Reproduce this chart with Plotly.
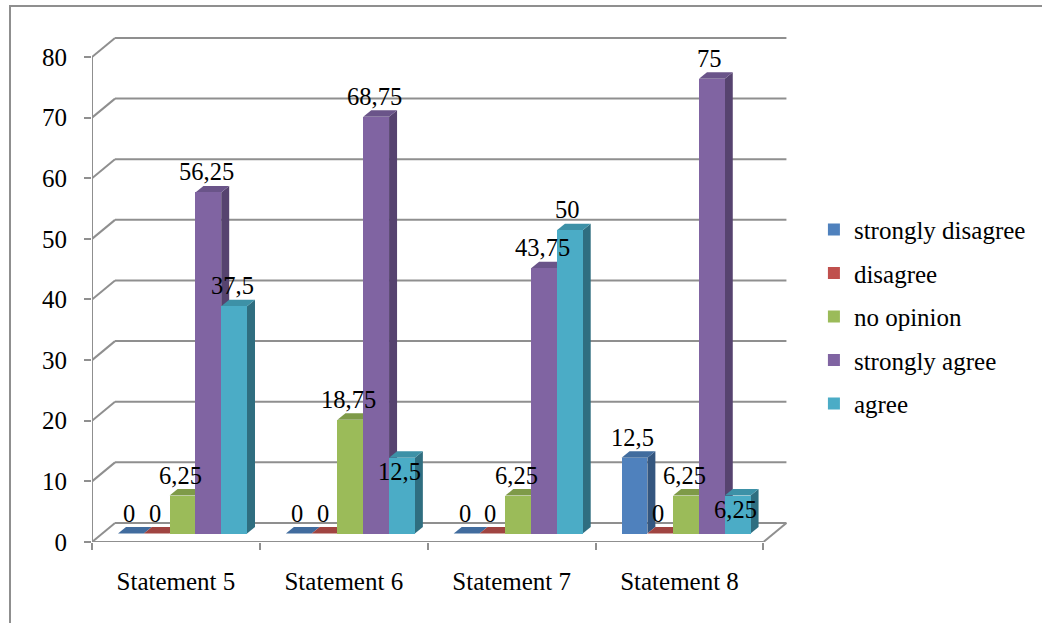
import plotly.graph_objects as go

# ---- data -------------------------------------------------------------
categories = ["Statement 5", "Statement 6", "Statement 7", "Statement 8"]
series_names = ["strongly disagree", "disagree", "no opinion", "strongly agree", "agree"]
strongly_disagree = [0, 0, 0, 12.5]
disagree = [0, 0, 0, 0]
no_opinion = [6.25, 18.75, 6.25, 6.25]
strongly_agree = [56.25, 68.75, 43.75, 75]
agree = [37.5, 12.5, 50, 6.25]
y_ticks = [0, 10, 20, 30, 40, 50, 60, 70, 80]

series_values = [strongly_disagree, disagree, no_opinion, strongly_agree, agree]

# ---- styling ----------------------------------------------------------
front_colors = ["#4F81BD", "#C0504D", "#9BBB59", "#8064A2", "#4BACC6"]
side_colors = ["#34567F", "#843634", "#6A823A", "#56436F", "#2F6E80"]
top_colors = ["#416C9E", "#A04441", "#7E9A48", "#6A5489", "#3D91A7"]
GRID = "#8f8f8f"
FONT = "Liberation Serif"

W, H = 1042, 623
M_L, M_R, M_T, M_B = 92, 245, 30, 81
X_RANGE = [0, 4.2]
Y_RANGE = [0, 84.45]
px_x = (W - M_L - M_R) / (X_RANGE[1] - X_RANGE[0])   # pixels per category unit
px_y = (H - M_T - M_B) / (Y_RANGE[1] - Y_RANGE[0])   # pixels per value unit

# pseudo-3D offsets (converted from pixels into data units)
wall_dx, wall_dy = 23 / px_x, 19 / px_y          # back wall depth
plane_dy = 8.5 / px_y                            # bars stand slightly behind the front edge
depth_dx, depth_dy = 8 / px_x, 6.5 / px_y        # bar depth
bar_w = 25.8 / px_x
group_left = 26 / px_x

# labels that sit lower than the default position (pixels)
label_drop = {(4, 1): 34, (4, 3): 34}

shapes = []


def seg(x0, y0, x1, y1, width=2):
    shapes.append(dict(type="line", xref="x", yref="y", x0=x0, y0=y0, x1=x1, y1=y1,
                       line=dict(color=GRID, width=width), layer="below"))


def poly(points, color):
    path = "M " + " L ".join(f"{qx},{qy}" for qx, qy in points) + " Z"
    shapes.append(dict(type="path", xref="x", yref="y", path=path,
                       fillcolor=color, line=dict(width=0), layer="below"))


# back wall gridlines and side wall diagonals
n_cat = len(categories)
for t in y_ticks:
    seg(0, t, wall_dx, t + wall_dy)
    seg(wall_dx, t + wall_dy, n_cat + wall_dx, t + wall_dy)

# floor edges and front vertical axis line
seg(0, 0, n_cat, 0)
seg(n_cat, 0, n_cat + wall_dx, wall_dy)
seg(0, 0, 0, y_ticks[-1])

fig = go.Figure()
annotations = []

for s, (name, vals) in enumerate(zip(series_names, series_values)):
    xs = [c + group_left + (s + 0.5) * bar_w for c in range(n_cat)]
    fig.add_trace(go.Bar(
        x=xs, y=vals, base=[plane_dy] * n_cat, width=bar_w, name=name,
        marker=dict(color=front_colors[s], line=dict(width=0)),
        legendgroup=name, hoverinfo="skip",
    ))
    for c, (xc, v) in enumerate(zip(xs, vals)):
        left, right = xc - bar_w / 2, xc + bar_w / 2
        bottom, top = plane_dy, plane_dy + v
        if v > 0:
            poly([(right, bottom), (right + depth_dx, bottom + depth_dy),
                  (right + depth_dx, top + depth_dy), (right, top)], side_colors[s])
        poly([(left, top), (right, top), (right + depth_dx, top + depth_dy),
              (left + depth_dx, top + depth_dy)], top_colors[s])
        annotations.append(dict(
            x=xc - 2 / px_x, y=top, xref="x", yref="y",
            text=f"{v:g}".replace(".", ","), showarrow=False,
            yanchor="bottom", xanchor="center",
            yshift=5 - label_drop.get((s, c), 0),
            font=dict(family=FONT, size=24.5, color="black"),
        ))

# outer chart frame
shapes.append(dict(type="rect", xref="paper", yref="paper",
                   x0=(10 - M_L) / (W - M_L - M_R), x1=(W + 5 - M_L) / (W - M_L - M_R),
                   y0=-(H + 10 - (H - M_B)) / (H - M_T - M_B),
                   y1=((H - M_B) - 6) / (H - M_T - M_B),
                   line=dict(color=GRID, width=2), fillcolor="rgba(0,0,0,0)", layer="below"))

fig.update_layout(
    width=W, height=H,
    margin=dict(l=M_L, r=M_R, t=M_T, b=M_B, pad=0, autoexpand=False),
    paper_bgcolor="white", plot_bgcolor="rgba(0,0,0,0)",
    barmode="overlay", bargap=0,
    shapes=shapes, annotations=annotations,
    font=dict(family=FONT, size=25, color="black"),
    showlegend=True,
    legend=dict(x=1.024, y=0.655, xanchor="left", yanchor="top",
                font=dict(family=FONT, size=25, color="black"),
                tracegroupgap=8, bgcolor="rgba(0,0,0,0)", itemwidth=30),
    xaxis=dict(range=X_RANGE, showgrid=False, zeroline=False, showline=False,
               tickvals=[c + 0.5 for c in range(n_cat)], ticktext=categories,
               ticks="outside", ticklen=0, tickcolor=GRID,
               minor=dict(tickvals=list(range(n_cat + 1)), ticks="outside",
                          ticklen=7, tickwidth=2, tickcolor=GRID),
               ticklabelstandoff=17,
               tickfont=dict(family=FONT, size=25, color="black")),
    yaxis=dict(range=Y_RANGE, showgrid=False, zeroline=False, showline=False,
               tickvals=y_ticks, ticks="outside", ticklen=7, tickwidth=2,
               tickcolor=GRID, ticklabelstandoff=12,
               tickfont=dict(family=FONT, size=25, color="black")),
)

fig.write_html("out.html")
